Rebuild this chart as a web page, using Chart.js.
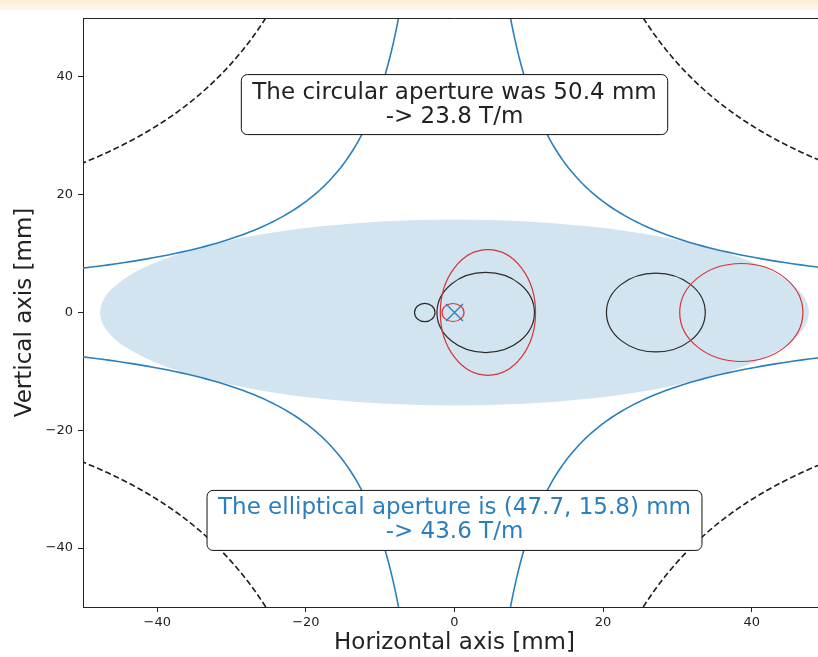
<!DOCTYPE html>
<html>
<head>
<meta charset="utf-8">
<script src="https://cdn.jsdelivr.net/npm/chart.js@4"></script>
<style>
  html, body { margin: 0; padding: 0; background: #fff; overflow: hidden; width: 818px; height: 657px; }
  #band { position: absolute; left: 0; top: 0; width: 818px; height: 10px; background: linear-gradient(#fcefd5, #fdf6ea); }
  canvas { position: absolute; left: 0; top: 0; }
</style>
</head>
<body>
<div id="band"></div>
<canvas id="aperture" width="840" height="657"></canvas>
<script>
// axis limits and ticks [mm]
const xRange = [-50, 50];
const yRange = [-50, 50];
const xTicks = [-40, -20, 0, 20, 40];
const yTicks = [-40, -20, 0, 20, 40];

// apertures [mm] and resulting gradients [T/m]
const circularAperture = 50.4;
const ellipticalAperture = [47.7, 15.8];
const circularGradient = 23.8;
const ellipticalGradient = 43.6;

// beam envelopes: centre x, half width, half height [mm]
const blackBeamX = [-4.0, 4.2, 27.1];
const blackBeamRx = [1.38, 6.56, 6.65];
const blackBeamRy = [1.55, 6.8, 6.7];
const redBeamX = [-0.2, 4.5, 38.6];
const redBeamRx = [1.48, 6.41, 8.29];
const redBeamRy = [1.53, 10.66, 8.32];

// reference orbit
const orbitX = [0];
const orbitY = [0];

// text box anchors (y of the centre)
const noteY = [35.3, -35.3];

const blue = '#2a7fbc';
const red = '#d8323a';
const ink = '#222';

Chart.defaults.font.family = '"DejaVu Sans", sans-serif';

// one branch of the pole profile x*y = c, limited to the plotted window
function branch(c, sx, sy) {
  const pts = [];
  const x0 = c / yRange[1], x1 = xRange[1];
  for (let i = 0; i <= 80; i++) {
    const x = x0 * Math.pow(x1 / x0, i / 80);
    pts.push({ x: sx * x, y: sy * c / x });
  }
  return pts;
}

function poleSets(c, style) {
  return [[1, 1], [-1, 1], [1, -1], [-1, -1]].map(([sx, sy]) => Object.assign({
    data: branch(c, sx, sy), showLine: true, pointRadius: 0, fill: false
  }, style));
}

const circPole = circularAperture * circularAperture / 2;
const ellPole = ellipticalAperture[0] * ellipticalAperture[1] / 2;

const fmt = v => (v < 0 ? '\u2212' + Math.abs(v) : String(v));

const extras = {
  id: 'extras',
  beforeDatasetsDraw(chart) {
    const { ctx, chartArea: a, scales: { x, y } } = chart;
    ctx.save();
    ctx.beginPath();
    ctx.rect(a.left, a.top, a.right - a.left, a.bottom - a.top);
    ctx.clip();
    ctx.fillStyle = 'rgba(31,119,180,0.2)';
    ctx.beginPath();
    ctx.ellipse(x.getPixelForValue(0), y.getPixelForValue(0),
      x.getPixelForValue(ellipticalAperture[0]) - x.getPixelForValue(0),
      y.getPixelForValue(0) - y.getPixelForValue(ellipticalAperture[1]), 0, 0, 2 * Math.PI);
    ctx.fill();
    ctx.restore();
  },
  afterDatasetsDraw(chart) {
    const { ctx, scales: { x, y } } = chart;
    const beams = (xs, rxs, rys, color) => {
      ctx.strokeStyle = color;
      ctx.lineWidth = 1.2;
      xs.forEach((cx, i) => {
        ctx.beginPath();
        ctx.ellipse(x.getPixelForValue(cx), y.getPixelForValue(0),
          x.getPixelForValue(cx + rxs[i]) - x.getPixelForValue(cx),
          y.getPixelForValue(0) - y.getPixelForValue(rys[i]), 0, 0, 2 * Math.PI);
        ctx.stroke();
      });
    };
    ctx.save();
    beams(blackBeamX, blackBeamRx, blackBeamRy, '#2b2b2b');
    beams(redBeamX, redBeamRx, redBeamRy, red);

    // annotation boxes
    const notes = [
      { lines: ['The circular aperture was ' + circularAperture + ' mm', '-> ' + circularGradient + ' T/m'], color: ink },
      { lines: ['The elliptical aperture is (' + ellipticalAperture[0] + ', ' + ellipticalAperture[1] + ') mm', '-> ' + ellipticalGradient + ' T/m'], color: blue }
    ];
    ctx.font = '23px "DejaVu Sans"';
    ctx.textAlign = 'center';
    ctx.textBaseline = 'middle';
    notes.forEach((n, i) => {
      const cx = x.getPixelForValue(0), cy = y.getPixelForValue(noteY[i]);
      const w = Math.max(...n.lines.map(l => ctx.measureText(l).width)) + 22;
      const h = 60;
      ctx.beginPath();
      ctx.roundRect(cx - w / 2, cy - h / 2, w, h, 6);
      ctx.fillStyle = '#fff';
      ctx.fill();
      ctx.strokeStyle = '#111';
      ctx.lineWidth = 1;
      ctx.stroke();
      ctx.fillStyle = n.color;
      ctx.fillText(n.lines[0], cx, cy - 12);
      ctx.fillText(n.lines[1], cx, cy + 12);
    });
    ctx.restore();
  },
  afterDraw(chart) {
    const { ctx, chartArea: a } = chart;
    ctx.save();
    ctx.strokeStyle = ink;
    ctx.lineWidth = 1;
    ctx.beginPath();
    ctx.moveTo(a.left, a.top + 0.5);
    ctx.lineTo(a.right, a.top + 0.5);
    ctx.lineTo(a.right - 0.5, a.bottom);
    ctx.stroke();
    ctx.restore();
  }
};

new Chart(document.getElementById('aperture').getContext('2d'), {
  type: 'scatter',
  data: {
    datasets: [
      ...poleSets(circPole, { borderColor: '#1e1e1e', borderWidth: 1.6, borderDash: [6, 3] }),
      ...poleSets(ellPole, { borderColor: blue, borderWidth: 1.6 }),
      {
        data: orbitX.map((v, i) => ({ x: v, y: orbitY[i] })),
        pointStyle: 'crossRot', pointRadius: 12, borderColor: blue, borderWidth: 1.3
      }
    ]
  },
  options: {
    responsive: false,
    animation: false,
    events: [],
    layout: { padding: { left: 0, top: 18, right: 14, bottom: 0 } },
    plugins: { legend: { display: false }, tooltip: { enabled: false } },
    scales: {
      x: {
        type: 'linear', min: xRange[0], max: xRange[1],
        afterBuildTicks: s => { s.ticks = xTicks.map(v => ({ value: v })); },
        afterFit: s => { s.height = 50; },
        grid: { drawOnChartArea: false, tickLength: 5, tickColor: ink },
        border: { color: ink, width: 1 },
        ticks: { font: { size: 13 }, color: ink, padding: 3, maxRotation: 0, autoSkip: false, callback: fmt },
        title: { display: true, text: 'Horizontal axis [mm]', font: { size: 23 }, color: ink, padding: { top: 2, bottom: 0 } }
      },
      y: {
        type: 'linear', min: yRange[0], max: yRange[1],
        afterBuildTicks: s => { s.ticks = yTicks.map(v => ({ value: v })); },
        afterFit: s => { s.width = 83; },
        grid: { drawOnChartArea: false, tickLength: 5, tickColor: ink },
        border: { color: ink, width: 1 },
        ticks: { font: { size: 13 }, color: ink, padding: 5, autoSkip: false, callback: fmt },
        title: { display: true, text: 'Vertical axis [mm]', font: { size: 23 }, color: ink, padding: { top: 11, bottom: 0 } }
      }
    }
  },
  plugins: [extras]
});
</script>
</body>
</html>
